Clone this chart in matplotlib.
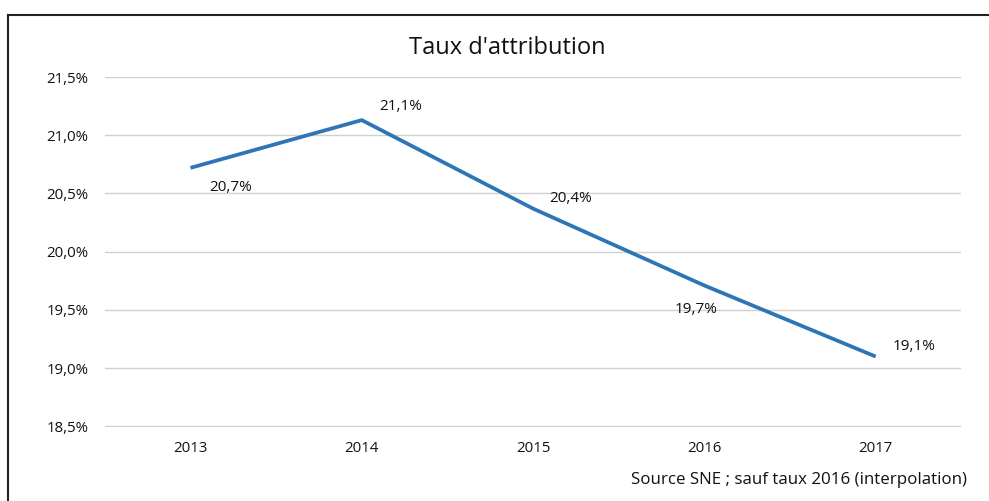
import matplotlib.pyplot as plt
from matplotlib.lines import Line2D

plt.rcParams['font.family'] = ['Open Sans', 'DejaVu Sans']

years = ['2013', '2014', '2015', '2016', '2017']
rates = [20.72, 21.13, 20.37, 19.71, 19.10]
labels = ['20,7%', '21,1%', '20,4%', '19,7%', '19,1%']
# label offsets in points (dx, dy)
offsets = [(29, -14), (28, 10), (27, 7), (-6, -17), (28, 7)]
yticks = [18.5, 19.0, 19.5, 20.0, 20.5, 21.0, 21.5]

fig = plt.figure(figsize=(9.89, 5.01), dpi=100)
ax = fig.add_axes([0.106, 0.1477, 0.866, 0.6986])

x = range(len(years))
ax.plot(x, rates, color='#2E75B6', linewidth=2.7, solid_capstyle='butt')
for xi, yi, lab, off in zip(x, rates, labels, offsets):
    ax.annotate(lab, (xi, yi), xytext=off, textcoords='offset points',
                ha='center', va='center', fontsize=11, color='#111111')

ax.set_xlim(-0.5, len(years) - 0.5)
ax.set_ylim(18.495, 21.5)
ax.set_yticks(yticks)
ax.set_yticklabels([f'{v:.1f}%'.replace('.', ',') for v in yticks])
ax.set_xticks(list(x))
ax.set_xticklabels(years)
ax.tick_params(length=0, labelsize=10.8, colors='#111111')
ax.tick_params(axis='y', pad=12)
ax.tick_params(axis='x', pad=10)
ax.grid(axis='y', color='#d0d0d0', linewidth=1)
ax.set_axisbelow(True)
for s in ax.spines.values():
    s.set_visible(False)

fig.text(0.513, 0.905, "Taux d'attribution", ha='center', va='center',
         fontsize=17, color='#111111')
fig.text(0.978, 0.042, 'Source SNE ; sauf taux 2016 (interpolation)',
         ha='right', va='center', fontsize=12.2, color='#111111')

# outer frame (top and left edges only)
fig.add_artist(Line2D([0.008, 1.0], [0.970, 0.970], transform=fig.transFigure,
                      color='#222222', linewidth=1.5))
fig.add_artist(Line2D([0.008, 0.008], [0.970, 0.0], transform=fig.transFigure,
                      color='#222222', linewidth=1.5))

fig.savefig('out.png', dpi=100, facecolor='white')
